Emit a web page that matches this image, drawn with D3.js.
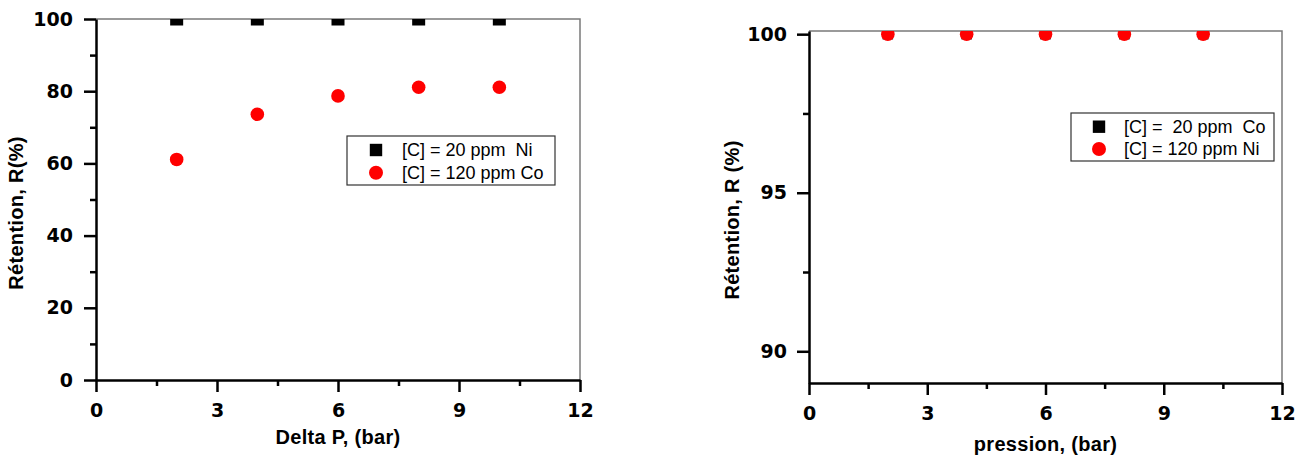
<!DOCTYPE html>
<html lang="fr">
<head>
<meta charset="UTF-8">
<title>Rétention</title>
<script src="https://cdn.jsdelivr.net/npm/d3@7"></script>
<style>
    body { margin: 0; background: #fff; }
    .tick text { font-family: "DejaVu Sans", sans-serif; font-weight: bold; font-size: 19px; fill: #000; }
    .title { font-family: "Liberation Sans", Arial, sans-serif; font-weight: bold; font-size: 20px; letter-spacing: 0.3px; }
    .leg { font-family: "Liberation Sans", Arial, sans-serif; font-size: 18px; white-space: pre; }
</style>
</head>
<body>
<svg width="1300" height="466"></svg>
<script>
    // data
    var pression = [2, 4, 6, 8, 10];
    // left panel: Delta P
    var leftNi20 = [100, 100, 100, 100, 100];
    var leftCo120 = [61.1, 73.6, 78.7, 81.1, 81.1];
    // right panel: pression
    var rightCo20 = [100, 100, 100, 100, 100];
    var rightNi120 = [100, 100, 100, 100, 100];

    var xTicks = [0, 3, 6, 9, 12],
        xMinor = [1.5, 4.5, 7.5, 10.5];
    var leftYTicks = [0, 20, 40, 60, 80, 100],
        leftYMinor = [10, 30, 50, 70, 90];
    var rightYTicks = [90, 95, 100],
        rightYMinor = [92.5, 97.5];

    var svg = d3.select("svg");

    function panel(opt) {
        var x = d3.scaleLinear().domain([0, 12]).range([opt.left, opt.right]);
        var y = d3.scaleLinear().domain(opt.yDomain).range([opt.bottom, opt.top]);
        var g = svg.append("g");

        // grey frame top / right
        g.append("path")
            .attr("d", "M" + opt.left + "," + opt.top + "H" + opt.right + "V" + opt.bottom)
            .attr("fill", "none").attr("stroke", "#7a7a7a").attr("stroke-width", 1.5);

        // minor ticks
        g.append("g").attr("transform", "translate(0," + opt.bottom + ")")
            .call(d3.axisBottom(x).tickValues(xMinor).tickSize(6).tickFormat(""))
            .call(function (a) { a.select(".domain").remove(); a.selectAll("line").attr("stroke-width", 2.5); });
        g.append("g").attr("transform", "translate(" + opt.left + ",0)")
            .call(d3.axisLeft(y).tickValues(opt.yMinor).tickSize(6).tickFormat(""))
            .call(function (a) { a.select(".domain").remove(); a.selectAll("line").attr("stroke-width", 2.5); });

        // major axes
        g.append("g").attr("transform", "translate(0," + opt.bottom + ")")
            .call(d3.axisBottom(x).tickValues(xTicks).tickSize(12).tickSizeOuter(0).tickPadding(12))
            .call(function (a) {
                a.select(".domain").attr("stroke-width", 2.5);
                a.selectAll("line").attr("stroke-width", 2.5);
            });
        g.append("g").attr("transform", "translate(" + opt.left + ",0)")
            .call(d3.axisLeft(y).tickValues(opt.yTicks).tickSize(12).tickSizeOuter(0).tickPadding(opt.yPad))
            .call(function (a) {
                a.select(".domain").attr("stroke-width", 2.5);
                a.selectAll("line").attr("stroke-width", 2.5);
            });

        // titles
        g.append("text").attr("class", "title")
            .attr("x", (opt.left + opt.right) / 2).attr("y", opt.xTitleY)
            .attr("text-anchor", "middle").text(opt.xTitle);
        g.append("text").attr("class", "title")
            .attr("transform", "translate(" + opt.yTitleX + "," + opt.yTitleMid + ") rotate(-90)")
            .attr("text-anchor", "middle").text(opt.yTitle);

        // clip
        var clipId = "clip" + opt.id;
        svg.append("clipPath").attr("id", clipId).append("rect")
            .attr("x", opt.left).attr("y", opt.top)
            .attr("width", opt.right - opt.left).attr("height", opt.bottom - opt.top);
        var pts = g.append("g").attr("clip-path", "url(#" + clipId + ")");

        var s = opt.sqSize;
        pts.selectAll(".sq").data(opt.squares).enter().append("rect")
            .attr("class", "sq")
            .attr("x", function (d, i) { return x(pression[i]) - s / 2; })
            .attr("y", function (d) { return y(d) - s / 2; })
            .attr("width", s).attr("height", s).attr("fill", "#000");
        pts.selectAll(".ci").data(opt.circles).enter().append("circle")
            .attr("class", "ci")
            .attr("cx", function (d, i) { return x(pression[i]); })
            .attr("cy", function (d) { return y(d); })
            .attr("r", 6.8).attr("fill", "#ff0000");

        // legend
        var L = opt.legend;
        g.append("rect").attr("x", L.x).attr("y", L.y).attr("width", L.w).attr("height", L.h)
            .attr("fill", "#fff").attr("stroke", "#333").attr("stroke-width", 1.2);
        g.append("rect").attr("x", L.mx - 6.2).attr("y", L.y1 - 6.2).attr("width", 12.4).attr("height", 12.4).attr("fill", "#000");
        g.append("circle").attr("cx", L.mx).attr("cy", L.y2).attr("r", 7).attr("fill", "#ff0000");
        g.append("text").attr("class", "leg").attr("x", L.tx).attr("y", L.y1 + 6).text(L.t1);
        g.append("text").attr("class", "leg").attr("x", L.tx).attr("y", L.y2 + 6).text(L.t2);
    }

    panel({
        id: "L", left: 96, right: 580, top: 19, bottom: 380,
        yDomain: [0, 100], yTicks: leftYTicks, yMinor: leftYMinor, yPad: 11,
        xTitle: "Delta P, (bar)", xTitleY: 444,
        yTitle: "Rétention, R(%)", yTitleX: 23, yTitleMid: 213,
        squares: leftNi20, circles: leftCo120, sqSize: 13,
        legend: { x: 347, y: 136, w: 208, h: 49, mx: 376, y1: 150, y2: 172.7, tx: 402,
                  t1: "[C] = 20 ppm  Ni", t2: "[C] = 120 ppm Co" }
    });

    panel({
        id: "R", left: 809, right: 1282, top: 31, bottom: 383,
        yDomain: [89, 100.1], yTicks: rightYTicks, yMinor: rightYMinor, yPad: 10,
        xTitle: "pression, (bar)", xTitleY: 451,
        yTitle: "Rétention, R (%)", yTitleX: 739, yTitleMid: 220,
        squares: rightCo20, circles: rightNi120, sqSize: 10.5,
        legend: { x: 1071, y: 113, w: 203, h: 48, mx: 1099, y1: 126.7, y2: 149, tx: 1124,
                  t1: "[C] =  20 ppm  Co", t2: "[C] = 120 ppm Ni" }
    });
</script>
</body>
</html>
